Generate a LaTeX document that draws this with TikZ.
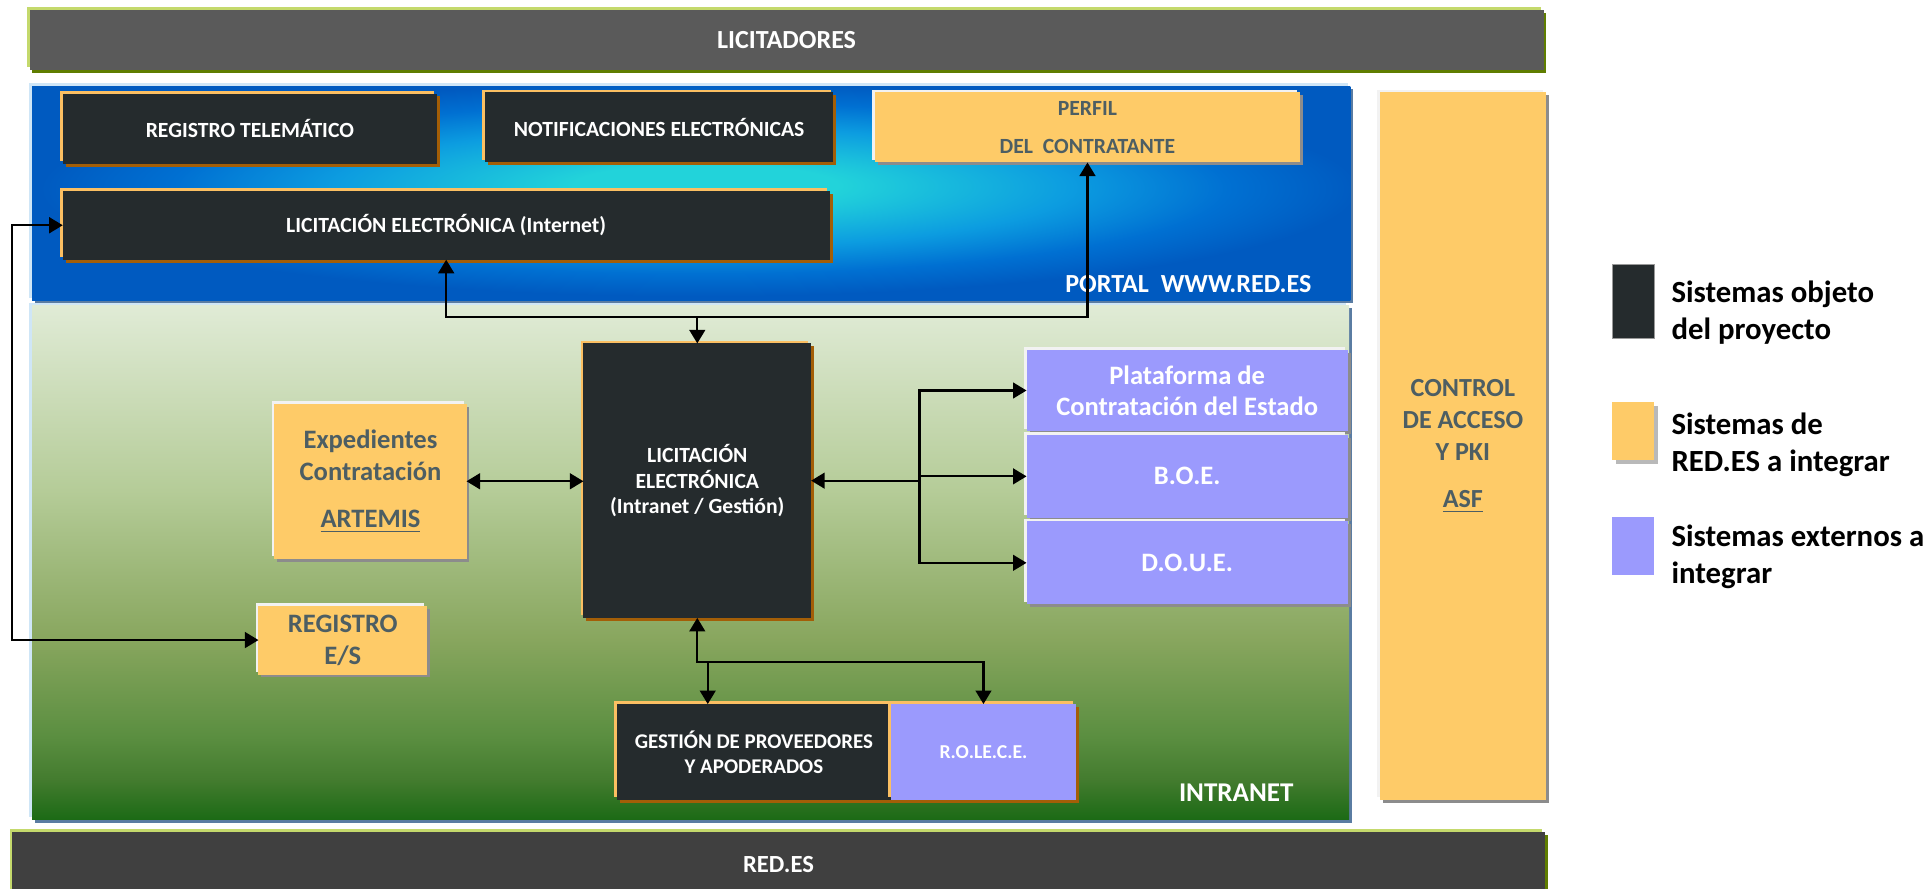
\documentclass[tikz,border=0pt]{standalone}
\usepackage{fontspec}
\setmainfont{Carlito}
\usetikzlibrary{arrows.meta}
\definecolor{dkfill}{HTML}{252B2D}
\definecolor{orhl}{HTML}{FBBF62}
\definecolor{brsh}{HTML}{A35E07}
\definecolor{yel}{HTML}{FECB68}
\definecolor{yeltxt}{HTML}{4D5E63}
\definecolor{yelsh}{HTML}{8C8C8C}
\definecolor{wht}{HTML}{F2F2F2}
\definecolor{pur}{HTML}{9B9AFD}
\definecolor{barg}{HTML}{5A5A5A}
\definecolor{barb}{HTML}{404040}
\definecolor{barhl}{HTML}{C4D96C}
\definecolor{barsh}{HTML}{5F7D00}
\definecolor{pcyan}{HTML}{22D3DA}
\definecolor{pmid}{HTML}{0C9CE0}
\definecolor{pblue}{HTML}{0070D2}
\definecolor{pdark}{HTML}{005AC0}
\definecolor{reghl}{HTML}{CFE6F7}
\definecolor{regsh}{HTML}{5A7CA2}
\definecolor{gA}{HTML}{1B6A15}
\definecolor{gB}{HTML}{447C2F}
\definecolor{gC}{HTML}{5A8E40}
\definecolor{gD}{HTML}{88A65E}
\definecolor{gE}{HTML}{B5CC98}
\definecolor{gF}{HTML}{E0EBD6}
\pgfdeclareradialshading{portalsh}{\pgfpoint{0.6bp}{2bp}}{color(0bp)=(pcyan); color(5bp)=(pcyan); color(14bp)=(pmid); color(20bp)=(pblue); color(25bp)=(pdark); color(50bp)=(pdark)}
\pgfdeclareverticalshading{intrash}{100bp}{color(0bp)=(gA); color(25bp)=(gA); color(29bp)=(gB); color(33bp)=(gC); color(42.5bp)=(gD); color(57bp)=(gE); color(75bp)=(gF); color(100bp)=(gF)}
\tikzset{
  rect/.style n args={4}{at={({(#1+#3)/2},{(#2+#4)/2})}, minimum width={(#3-#1)*0.5pt}, minimum height={(#4-#2)*0.5pt}},
  box/.style={inner sep=0pt, outer sep=0pt, align=center},
  hlsh/.style 2 args={preaction={fill=#2,transform canvas={shift={(1.2pt,-1.2pt)}}},preaction={fill=#1,transform canvas={shift={(-1.1pt,1.1pt)}}}},
  darkbox/.style={box, fill=dkfill, text=white, hlsh={orhl}{brsh}, font=\fontsize{8.8}{10.5}\selectfont\bfseries},
  yelbox/.style={box, fill=yel, text=yeltxt, hlsh={wht}{yelsh}, font=\fontsize{10.8}{13}\selectfont\bfseries},
  purbox/.style={box, fill=pur, text=white, hlsh={wht}{yelsh}, font=\fontsize{10.8}{12.75}\selectfont\bfseries},
  barbox/.style={box, text=white, hlsh={barhl}{barsh}, font=\fontsize{10.6}{12}\selectfont\bfseries},
  region/.style={box, hlsh={reghl}{regsh}},
  conn/.style={draw=black, line width=0.9pt},
  legtxt/.style={anchor=base west, align=left, font=\fontsize{12.5}{15}\selectfont\bfseries, text=black},
}
\begin{document}
\begin{tikzpicture}[x=0.5pt,y=-0.5pt,>={Triangle[length=5.5pt,width=6.4pt]}]
\useasboundingbox (0,0) rectangle (1568,722);
% bars
\node[barbox, fill=barg, rect={24}{8}{1254}{57}] (licit) {LICITADORES};
\node[barbox, fill=barb, font=\fontsize{10}{12}\selectfont\bfseries, rect={10}{676}{1255}{728}] (redes) {RED.ES};
% regions
\node[region, shade, shading=portalsh, rect={26}{70}{1097}{244}] (portal) {};
\node[region, shade, shading=intrash, rect={26}{248}{1096}{666}] (intranet) {};
\node[anchor=base east, text=white, font=\fontsize{10.6}{12}\selectfont\bfseries] (portallbl) at (1072.6,238) {PORTAL\ \ WWW.RED.ES};
\node[anchor=base east, text=white, font=\fontsize{11}{13}\selectfont\bfseries] (intralbl) at (1058,651) {INTRANET};
% portal systems
\node[darkbox, rect={51}{76}{355}{133}] (regtel) {REGISTRO TELEMÁTICO};
\node[darkbox, rect={394}{75}{677}{132}] (notif) {NOTIFICACIONES ELECTRÓNICAS};
\node[yelbox, font=\fontsize{8.8}{10.5}\selectfont\bfseries, rect={711}{75}{1056}{132}] (perfil) {PERFIL\\[5pt]DEL\ \ CONTRATANTE};
\node[darkbox, rect={51}{155}{674}{211}] (licinet) {LICITACIÓN ELECTRÓNICA (Internet)};
% intranet systems
\node[darkbox, rect={474}{279}{659}{502}] (licintra) {LICITACIÓN\\ELECTRÓNICA\\(Intranet / Gestión)};
\node[yelbox, rect={223}{328}{379}{454}] (expd) {Expedientes\\Contratación\\[6.3pt]\underline{ARTEMIS}};
\node[yelbox, rect={210}{492}{347}{548}] (reges) {REGISTRO\\E/S};
\node[purbox, rect={834}{284}{1095}{350.5}] (plat) {Plataforma de\\Contratación del Estado};
\node[purbox, rect={834}{353.5}{1095}{420.5}] (boe) {B.O.E.};
\node[purbox, rect={834}{423.5}{1095}{491}] (doue) {D.O.U.E.};
\node[darkbox, font=\fontsize{8.5}{10}\selectfont\bfseries, rect={501}{572}{724}{650}] (gestion) {GESTIÓN DE PROVEEDORES\\Y APODERADOS};
\node[darkbox, fill=pur, font=\fontsize{8}{10}\selectfont\bfseries, rect={724}{572}{874}{650}] (rolece) {R.O.LE.C.E.};
% control
\node[yelbox, font=\fontsize{10.6}{13}\selectfont\bfseries, rect={1121}{75}{1256}{650}] (ctrl) {CONTROL\\DE ACCESO\\Y PKI\\[6.2pt]\underline{ASF}};
% connectors
\coordinate (lx) at (10,0);
\coordinate (bus) at (0,257.5);
\coordinate (tx) at (747,0);
\coordinate (bus2) at (0,538);
\coordinate (gx) at (575,0);
\draw[conn,<->] (licinet.west) -- (licinet.west -| lx) -- (reges.west -| lx) -- (reges.west);
\draw[conn,<->] (licinet.south) -- (licinet.south |- bus) -- (perfil.south |- bus) -- (perfil.south);
\draw[conn,->] (licintra.north |- bus) -- (licintra.north);
\draw[conn,<->] (expd.east) -- (expd.east -| licintra.west);
\draw[conn,<-] (licintra.east) -- (licintra.east -| tx);
\draw[conn,->] (licintra.east -| tx) |- (plat.west);
\draw[conn,->] (licintra.east -| tx) |- (boe.west);
\draw[conn,->] (licintra.east -| tx) |- (doue.west);
\draw[conn,<->] (licintra.south) -- (licintra.south |- bus2) -- (rolece.north |- bus2) -- (rolece.north);
\draw[conn,->] (gx |- bus2) -- (gestion.north -| gx);
% legend
\node[box, fill=dkfill, draw=gray!80, line width=0.6pt, rect={1310}{215}{1344}{275}] (leg1) {};
\node[box, fill=yel, preaction={fill=gray!55,transform canvas={shift={(1.5pt,-1.5pt)}}}, rect={1310}{327}{1344}{374}] (leg2) {};
\node[box, fill=pur, rect={1310}{420}{1344}{467}] (leg3) {};
\node[legtxt] (legt1) at (1351,276) {Sistemas objeto\\del proyecto};
\node[legtxt] (legt2) at (1351,383) {Sistemas de\\RED.ES a integrar};
\node[legtxt] (legt3) at (1351,474) {Sistemas externos a\\integrar};
\end{tikzpicture}
\end{document}
